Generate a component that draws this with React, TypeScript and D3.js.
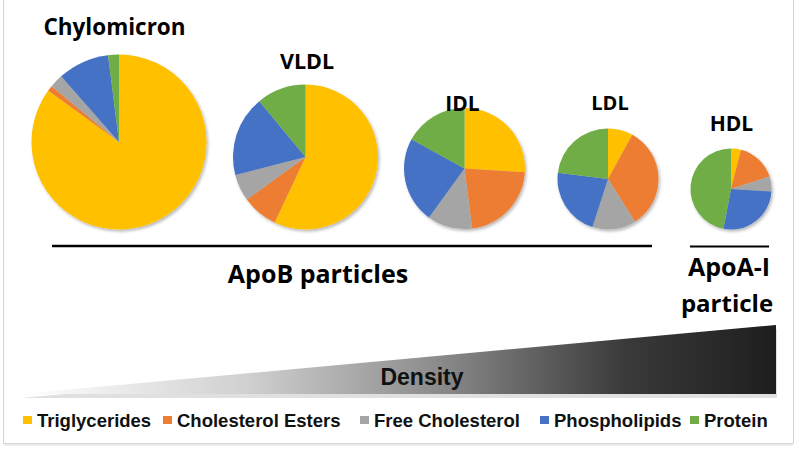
import React from "react";
import * as d3 from "d3";

const components = ["Triglycerides", "Cholesterol Esters", "Free Cholesterol", "Phospholipids", "Protein"];
const colors = ["#FFC000", "#ED7D31", "#A5A5A5", "#4472C4", "#70AD47"];
const particles = ["Chylomicron", "VLDL", "IDL", "LDL", "HDL"];
const chylomicron = [85, 1, 2.5, 9.5, 2];
const vldl = [57, 8, 6, 18, 11];
const idl = [26, 22, 12, 23, 17];
const ldl = [8, 33, 14, 22, 23];
const hdl = [4, 16, 6, 27, 47];
const seriesValues = [chylomicron, vldl, idl, ldl, hdl];

// layout
const pieLayout = [
  { cx: 119, cy: 142, r: 87.5, tx: 114.5, ty: 35, fs: 22.5 },
  { cx: 305.5, cy: 157, r: 72.5, tx: 307, ty: 69, fs: 21.5 },
  { cx: 464.5, cy: 168.5, r: 60.5, tx: 462.5, ty: 111, fs: 21 },
  { cx: 608, cy: 179, r: 50.5, tx: 610, ty: 110, fs: 20 },
  { cx: 731, cy: 189, r: 40.5, tx: 731.5, ty: 131, fs: 21 },
];
const legendX = [23, 163, 360, 540, 690];

const titleFont = "'Open Sans', Lato, sans-serif";
const sansFont = "'Liberation Sans', Arial, sans-serif";

export default function App() {
  const pie = d3.pie<number>().sort(null).value((d) => d);
  return (
    <svg width={797} height={451} style={{ position: "absolute", left: 0, top: 0, background: "#fff" }}>
      <defs>
        <filter id="sh" x="-20%" y="-20%" width="140%" height="140%">
          <feDropShadow dx="1.5" dy="2" stdDeviation="1.8" floodColor="#000" floodOpacity="0.28" />
        </filter>
        <linearGradient id="dens" x1="20" x2="776" y1="0" y2="0" gradientUnits="userSpaceOnUse">
          <stop offset="0" stopColor="#ffffff" />
          <stop offset="0.3" stopColor="#d0d0d0" />
          <stop offset="0.55" stopColor="#8c8c8c" />
          <stop offset="0.8" stopColor="#3a3a3a" />
          <stop offset="1" stopColor="#1e1e1e" />
        </linearGradient>
      </defs>
      <rect x={0} y={0} width={797} height={451} fill="#fff" />
      {/* frame */}
      <path d="M3.5,0 L3.5,443.5 L793.5,443.5 L793.5,0" fill="none" stroke="#d4d4d4" strokeWidth={1} />
      <line x1={4} x2={793} y1={445} y2={445} stroke="#ececec" strokeWidth={2} />

      {seriesValues.map((vals, i) => {
        const L = pieLayout[i];
        const arc = d3.arc<d3.PieArcDatum<number>>().innerRadius(0).outerRadius(L.r);
        return (
          <g key={particles[i]}>
            <g transform={`translate(${L.cx},${L.cy})`} filter="url(#sh)">
              {pie(vals).map((a, j) => (
                <path key={j} d={arc(a) || ""} fill={colors[j]} />
              ))}
            </g>
            <text x={L.tx} y={L.ty} textAnchor="middle" fontFamily={titleFont} fontWeight={700} fontSize={L.fs} fill="#000">
              {particles[i]}
            </text>
          </g>
        );
      })}

      <line x1={52} x2={652} y1={246} y2={246} stroke="#000" strokeWidth={2.5} />
      <line x1={690} x2={769} y1={246.5} y2={246.5} stroke="#000" strokeWidth={2} />
      <text x={318} y={283} textAnchor="middle" fontFamily={titleFont} fontWeight={700} fontSize={25} fill="#000">ApoB particles</text>
      <text x={729} y={276} textAnchor="middle" fontFamily={titleFont} fontWeight={700} fontSize={25} fill="#000">ApoA-I</text>
      <text x={727} y={312} textAnchor="middle" fontFamily={titleFont} fontWeight={700} fontSize={24} fill="#000">particle</text>

      {/* density wedge */}
      <path d="M20,396 L776,327 L776,396 Z" fill="#000" opacity={0.12} transform="translate(1,2)" />
      <path d="M20,394 L776,325 L776,394 Z" fill="url(#dens)" />
      <text x={422} y={385} textAnchor="middle" fontFamily={sansFont} fontWeight={700} fontSize={23} fill="#111">Density</text>

      {components.map((c, i) => (
        <g key={c}>
          <rect x={legendX[i]} y={416} width={9} height={8} fill={colors[i]} />
          <text x={legendX[i] + 14} y={426.5} fontFamily={sansFont} fontWeight={700} fontSize={18.5} fill="#111">{c}</text>
        </g>
      ))}
    </svg>
  );
}
